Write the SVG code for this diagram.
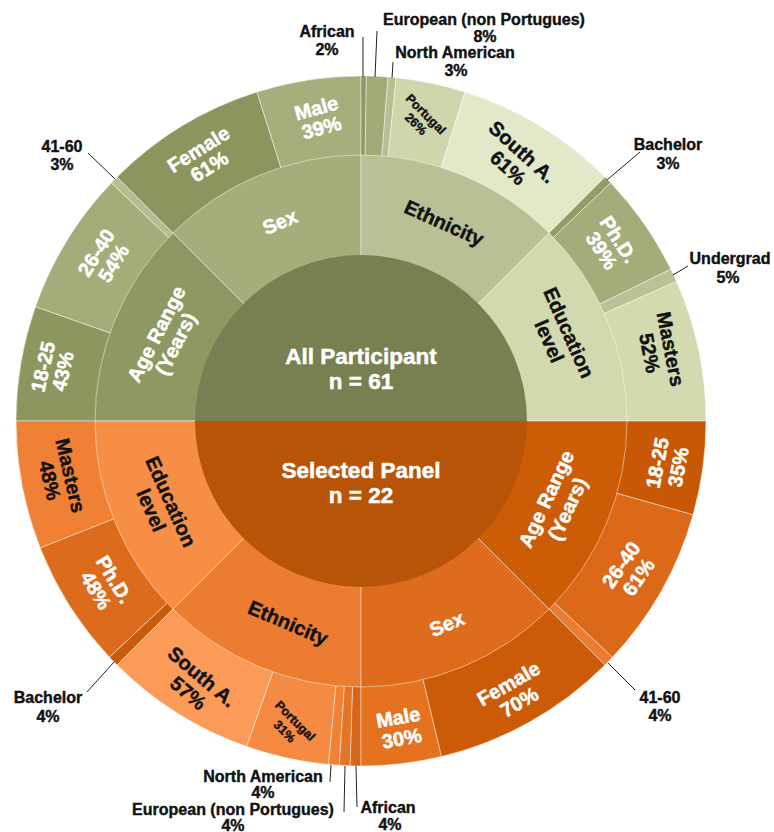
<svg xmlns="http://www.w3.org/2000/svg" width="774" height="832" viewBox="0 0 774 832">
<style>
.seg{stroke:#ffffff;stroke-opacity:0.45;stroke-width:1}
text{font-family:"Liberation Sans",Arial,sans-serif;font-weight:bold;text-anchor:middle}
.w{fill:#ffffff;stroke:#ffffff;stroke-width:0.5}
.k{fill:#111111;stroke:#111111;stroke-width:0.4}
.r{font-size:20px}
.s{font-size:12.5px}
.c{font-size:16px}
.ctr{font-size:22.5px}
.lead{stroke:#222;stroke-width:1;fill:none}
</style>
<rect width="774" height="832" fill="#ffffff"/>

<!-- Outer ring: top -->
<g id="outer-top">
<g id="t-18-25"><path class="seg" fill="#8c965f" d="M361,421 L16,421 A345,345 0 0 1 35.49,306.69 Z"/></g>
<g id="t-26-40"><path class="seg" fill="#a4ac79" d="M361,421 L35.49,306.69 A345,345 0 0 1 111.37,182.86 Z"/></g>
<g id="t-41-60"><path class="seg" fill="#b6bd90" d="M361,421 L111.37,182.86 A345,345 0 0 1 117.05,177.05 Z"/></g>
<g id="t-female"><path class="seg" fill="#8b955d" d="M361,421 L117.05,177.05 A345,345 0 0 1 256.97,92.06 Z"/></g>
<g id="t-male"><path class="seg" fill="#a6ae7c" d="M361,421 L256.97,92.06 A345,345 0 0 1 361,76 Z"/></g>
<g id="t-african"><path class="seg" fill="#8f9963" d="M361,421 L361,76 A345,345 0 0 1 366.42,76.04 Z"/></g>
<g id="t-european"><path class="seg" fill="#a2aa77" d="M361,421 L366.42,76.04 A345,345 0 0 1 388.07,77.06 Z"/></g>
<g id="t-na"><path class="seg" fill="#b8bf94" d="M361,421 L388.07,77.06 A345,345 0 0 1 396.16,77.80 Z"/></g>
<g id="t-portugal"><path class="seg" fill="#cfd6ab" d="M361,421 L396.16,77.80 A345,345 0 0 1 465.03,92.06 Z"/></g>
<g id="t-southa"><path class="seg" fill="#e3e9c8" d="M361,421 L465.03,92.06 A345,345 0 0 1 604.95,177.05 Z"/></g>
<g id="t-bachelor"><path class="seg" fill="#929c65" d="M361,421 L604.95,177.05 A345,345 0 0 1 610.63,182.86 Z"/></g>
<g id="t-phd"><path class="seg" fill="#a4ac79" d="M361,421 L610.63,182.86 A345,345 0 0 1 670.82,269.22 Z"/></g>
<g id="t-undergrad"><path class="seg" fill="#bac196" d="M361,421 L670.82,269.22 A345,345 0 0 1 676.54,281.50 Z"/></g>
<g id="t-masters"><path class="seg" fill="#d3daaf" d="M361,421 L676.54,281.50 A345,345 0 0 1 706,421 Z"/></g>
</g>

<!-- Outer ring: bottom -->
<g id="outer-bottom">
<g id="b-masters"><path class="seg" fill="#ef8034" d="M361,421 L40.23,548 A345,345 0 0 1 16,421 Z"/></g>
<g id="b-phd"><path class="seg" fill="#dc6b1c" d="M361,421 L109.51,657.17 A345,345 0 0 1 40.23,548 Z"/></g>
<g id="b-bachelor"><path class="seg" fill="#c85c0c" d="M361,421 L117.05,664.95 A345,345 0 0 1 109.51,657.17 Z"/></g>
<g id="b-southa"><path class="seg" fill="#fb9b57" d="M361,421 L246.69,746.51 A345,345 0 0 1 117.05,664.95 Z"/></g>
<g id="b-portugal"><path class="seg" fill="#f58b42" d="M361,421 L328.53,764.47 A345,345 0 0 1 246.69,746.51 Z"/></g>
<g id="b-na"><path class="seg" fill="#f08236" d="M361,421 L339.34,765.32 A345,345 0 0 1 328.53,764.47 Z"/></g>
<g id="b-european"><path class="seg" fill="#e57526" d="M361,421 L350.16,765.83 A345,345 0 0 1 339.34,765.32 Z"/></g>
<g id="b-african"><path class="seg" fill="#d86518" d="M361,421 L361,766 A345,345 0 0 1 350.16,765.83 Z"/></g>
<g id="b-male"><path class="seg" fill="#e4721f" d="M361,421 L441.54,756.47 A345,345 0 0 1 361,766 Z"/></g>
<g id="b-female"><path class="seg" fill="#cc5b07" d="M361,421 L604.95,664.95 A345,345 0 0 1 441.54,756.47 Z"/></g>
<g id="b-41-60"><path class="seg" fill="#ec7c33" d="M361,421 L612.49,657.17 A345,345 0 0 1 604.95,664.95 Z"/></g>
<g id="b-26-40"><path class="seg" fill="#dc6918" d="M361,421 L693.05,514.65 A345,345 0 0 1 612.49,657.17 Z"/></g>
<g id="b-18-25"><path class="seg" fill="#c95806" d="M361,421 L706,421 A345,345 0 0 1 693.05,514.65 Z"/></g>
</g>

<!-- Middle ring -->
<g id="middle">
<g id="tm-age"><path class="seg" fill="#8e9862" d="M361,421 L95,421 A266,266 0 0 1 172.91,232.91 Z"/></g>
<g id="tm-sex"><path class="seg" fill="#a5ad7b" d="M361,421 L172.91,232.91 A266,266 0 0 1 361,155 Z"/></g>
<g id="tm-eth"><path class="seg" fill="#b9c095" d="M361,421 L361,155 A266,266 0 0 1 549.09,232.91 Z"/></g>
<g id="tm-edu"><path class="seg" fill="#d3d9ae" d="M361,421 L549.09,232.91 A266,266 0 0 1 627,421 Z"/></g>
<g id="bm-edu"><path class="seg" fill="#f68e45" d="M361,421 L172.91,609.09 A266,266 0 0 1 95,421 Z"/></g>
<g id="bm-eth"><path class="seg" fill="#ec7d30" d="M361,421 L361,687 A266,266 0 0 1 172.91,609.09 Z"/></g>
<g id="bm-sex"><path class="seg" fill="#de6c1c" d="M361,421 L549.09,609.09 A266,266 0 0 1 361,687 Z"/></g>
<g id="bm-age"><path class="seg" fill="#cd5c07" d="M361,421 L627,421 A266,266 0 0 1 549.09,609.09 Z"/></g>
</g>

<!-- Centre -->
<g id="all-participant">
<path fill="#787f50" d="M195,421 A166,166 0 0 1 527,421 Z"/>
<text class="w ctr" x="361" y="364">All Participant</text>
<text class="w ctr" x="361" y="389">n = 61</text>
</g>
<g id="selected-panel">
<path fill="#b85407" d="M195,421 A166,166 0 0 0 527,421 Z"/>
<text class="w ctr" x="361" y="478">Selected Panel</text>
<text class="w ctr" x="361" y="503">n = 22</text>
</g>

<!-- Ring labels top -->
<g id="labels-top">
<text class="w r" transform="translate(53,369) rotate(-77)"><tspan x="0" y="-3.4">18-25</tspan><tspan x="0" y="17">43%</tspan></text>
<text class="w r" transform="translate(105,258) rotate(-58)"><tspan x="0" y="-3.4">26-40</tspan><tspan x="0" y="17">54%</tspan></text>
<text class="w r" transform="translate(204,158) rotate(-32)"><tspan x="0" y="-3.4">Female</tspan><tspan x="0" y="17">61%</tspan></text>
<text class="w r" transform="translate(319,118) rotate(-15)"><tspan x="0" y="-3.4">Male</tspan><tspan x="0" y="17">39%</tspan></text>
<text class="k s" transform="translate(421,119) rotate(45)"><tspan x="0" y="-2.6">Portugal</tspan><tspan x="0" y="11.4">26%</tspan></text>
<text class="k r" transform="translate(515,160) rotate(42)"><tspan x="0" y="-3.9">South A.</tspan><tspan x="0" y="17.5">61%</tspan></text>
<text class="w r" transform="translate(610,245) rotate(57)"><tspan x="0" y="-3.4">Ph.D.</tspan><tspan x="0" y="17">39%</tspan></text>
<text class="k r" transform="translate(660,351) rotate(79)"><tspan x="0" y="-3.9">Masters</tspan><tspan x="0" y="17.5">52%</tspan></text>
<text class="w r" transform="translate(280,222) rotate(-23)" y="6.8">Sex</text>
<text class="k r" transform="translate(444,223) rotate(24)" y="6.8">Ethnicity</text>
<text class="w r" transform="translate(166,339) rotate(-63)"><tspan x="0" y="-3.9">Age Range</tspan><tspan x="0" y="17.5">(Years)</tspan></text>
<text class="k r" transform="translate(559,337) rotate(66)"><tspan x="0" y="-3.9">Education</tspan><tspan x="0" y="17.5">level</tspan></text>
</g>

<!-- Ring labels bottom -->
<g id="labels-bottom">
<text class="k r" transform="translate(60,478) rotate(77)"><tspan x="0" y="-3.9">Masters</tspan><tspan x="0" y="17.5">48%</tspan></text>
<text class="w r" transform="translate(105,585) rotate(59)"><tspan x="0" y="-3.9">Ph.D.</tspan><tspan x="0" y="17.5">48%</tspan></text>
<text class="k r" transform="translate(195,685) rotate(40)"><tspan x="0" y="-3.9">South A.</tspan><tspan x="0" y="17.5">57%</tspan></text>
<text class="k s" transform="translate(290,726) rotate(45)"><tspan x="0" y="-3.1">Portugal</tspan><tspan x="0" y="11.9">31%</tspan></text>
<text class="w r" transform="translate(400,728) rotate(-10)"><tspan x="0" y="-3.9">Male</tspan><tspan x="0" y="17.5">30%</tspan></text>
<text class="w r" transform="translate(514,693) rotate(-30)"><tspan x="0" y="-3.9">Female</tspan><tspan x="0" y="17.5">70%</tspan></text>
<text class="w r" transform="translate(630,571) rotate(-55)"><tspan x="0" y="-3.9">26-40</tspan><tspan x="0" y="17.5">61%</tspan></text>
<text class="w r" transform="translate(668,465) rotate(-79)"><tspan x="0" y="-3.9">18-25</tspan><tspan x="0" y="17.5">35%</tspan></text>
<text class="k r" transform="translate(161,506) rotate(66)"><tspan x="0" y="-3.9">Education</tspan><tspan x="0" y="17.5">level</tspan></text>
<text class="k r" transform="translate(288,623) rotate(23)" y="6.8">Ethnicity</text>
<text class="w r" transform="translate(447,624) rotate(-23)" y="6.8">Sex</text>
<text class="w r" transform="translate(557,504) rotate(-65)"><tspan x="0" y="-4.9">Age Range</tspan><tspan x="0" y="18.5">(Years)</tspan></text>
</g>

<!-- Connectors -->
<g id="connectors">
<line class="lead" x1="88" y1="153" x2="115" y2="179"/>
<line class="lead" x1="363" y1="37" x2="363" y2="77"/>
<line class="lead" x1="377" y1="31" x2="375" y2="77"/>
<line class="lead" x1="393" y1="62" x2="392" y2="78"/>
<line class="lead" x1="640" y1="152" x2="607" y2="180"/>
<line class="lead" x1="688" y1="266" x2="673" y2="275"/>
<line class="lead" x1="87" y1="692" x2="114" y2="662"/>
<line class="lead" x1="331" y1="765" x2="330" y2="782"/>
<line class="lead" x1="345" y1="766" x2="344" y2="812"/>
<line class="lead" x1="356" y1="766" x2="357" y2="807"/>
<line class="lead" x1="635" y1="690" x2="608" y2="663"/>
</g>

<!-- Callout labels -->
<g id="callouts">
<text class="k c" x="62" y="151.5">41-60</text><text class="k c" x="62" y="169.5">3%</text>
<text class="k c" x="327" y="36.5">African</text><text class="k c" x="327" y="54.5">2%</text>
<text class="k c" x="484" y="25">European (non Portugues)</text><text class="k c" x="485" y="42">8%</text>
<text class="k c" x="455" y="58">North American</text><text class="k c" x="456" y="76">3%</text>
<text class="k c" x="668" y="149.5">Bachelor</text><text class="k c" x="668" y="168.5">3%</text>
<text class="k c" x="730" y="263.5">Undergrad</text><text class="k c" x="728" y="282.5">5%</text>
<text class="k c" x="48" y="702.5">Bachelor</text><text class="k c" x="48" y="721.5">4%</text>
<text class="k c" x="263" y="781.5">North American</text><text class="k c" x="263" y="797.5">4%</text>
<text class="k c" x="233" y="815">European (non Portugues)</text><text class="k c" x="233" y="830.5">4%</text>
<text class="k c" x="388" y="812.5">African</text><text class="k c" x="390" y="830">4%</text>
<text class="k c" x="660" y="702.5">41-60</text><text class="k c" x="660" y="720.5">4%</text>
</g>
</svg>
